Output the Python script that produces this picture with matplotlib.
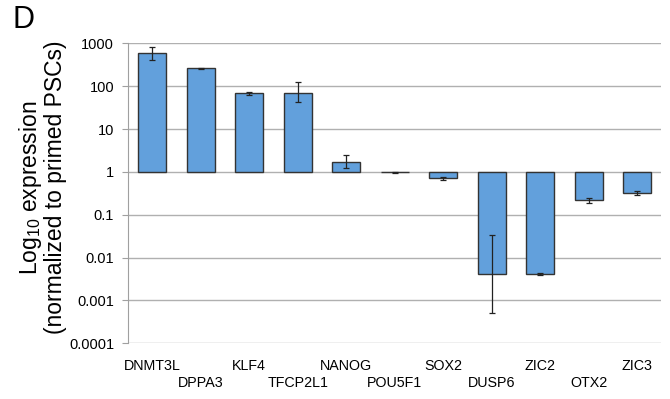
import numpy as np
import matplotlib.pyplot as plt

plt.rcParams['font.family'] = ['Liberation Sans', 'DejaVu Sans']

# Datos
genes = ['DNMT3L', 'DPPA3', 'KLF4', 'TFCP2L1', 'NANOG', 'POU5F1',
         'SOX2', 'DUSP6', 'ZIC2', 'OTX2', 'ZIC3']
values = [590, 265, 68, 71, 1.7, 0.97, 0.72, 0.0042, 0.0042, 0.22, 0.32]
err_low = [170, 8, 4, 28, 0.48, 0.03, 0.06, 0.0037, 0.0002, 0.03, 0.03]
err_high = [260, 8, 6, 54, 0.8, 0.03, 0.06, 0.029, 0.0002, 0.03, 0.03]
yticks = [0.0001, 0.001, 0.01, 0.1, 1, 10, 100, 1000]
ytick_labels = ['0.0001', '0.001', '0.01', '0.1', '1', '10', '100', '1000']

fig = plt.figure(figsize=(6.7, 3.99), dpi=100)
ax = fig.add_axes([0.191, 0.140, 0.796, 0.751])

x = np.arange(len(genes))
heights = [v - 1 for v in values]
ax.bar(x, heights, bottom=1, width=0.58, color='#62a0dc',
       edgecolor='#333333', linewidth=1.0, zorder=3)
ax.errorbar(x, values, yerr=[err_low, err_high], fmt='none',
            ecolor='#222222', elinewidth=0.9, capsize=2.5, capthick=0.9, zorder=4)

ax.set_yscale('log')
ax.set_ylim(0.0001, 1000)
ax.set_xlim(-0.5, len(genes) - 0.5)
ax.set_yticks(yticks)
ax.set_yticklabels(ytick_labels, fontsize=10.5)
ax.minorticks_off()
ax.yaxis.grid(True, color='#b0b0b0', linewidth=1.0, zorder=0)
ax.tick_params(axis='y', length=4, color='#a0a0a0', pad=6)

ax.set_xticks(x)
ax.set_xticklabels([])
ax.tick_params(axis='x', length=0)
# etiquetas escalonadas en dos filas
for i, g in enumerate(genes):
    yoff = -0.077 if i % 2 == 0 else -0.133
    ax.text(i, yoff, g, transform=ax.get_xaxis_transform(),
            ha='center', va='center', fontsize=10.3)

for s in ['top', 'right', 'bottom']:
    ax.spines[s].set_visible(False)
ax.spines['left'].set_color('#a0a0a0')

ax.set_ylabel('Log$_{\\mathregular{10}}$ expression\n(normalized to primed PSCs)',
              fontsize=16.5, linespacing=1.0)
ax.yaxis.set_label_coords(-0.115, 0.52)

fig.text(0.018, 0.95, 'D', fontsize=22, ha='left', va='center')

fig.savefig('out.png', dpi=100)
